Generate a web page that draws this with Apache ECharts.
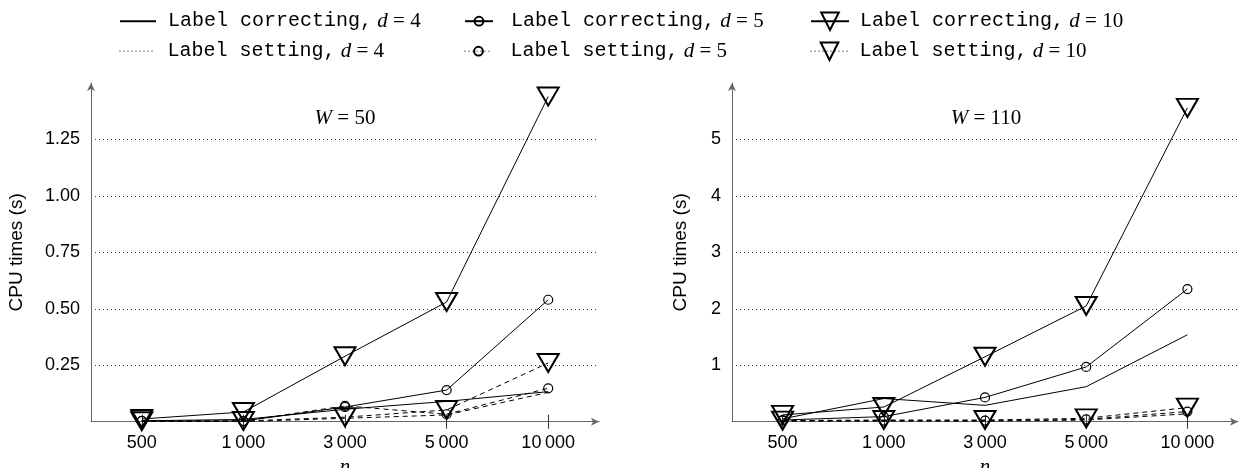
<!DOCTYPE html>
<html>
<head>
<meta charset="utf-8">
<title>CPU times</title>
<script src="https://cdn.jsdelivr.net/npm/echarts@6/dist/echarts.min.js"></script>
<style>html,body{margin:0;padding:0;background:#fff;}</style>
</head>
<body>
<div id="chart" style="width:1240px;height:468px;"></div>
<script>
// n values (x categories)
var ns = ['500', '1\u2009000', '3\u2009000', '5\u2009000', '10\u2009000'];

// W = 50
var corr4_50  = [0.004, 0.010, 0.055, 0.090, 0.133];
var corr5_50  = [0.003, 0.003, 0.065, 0.140, 0.540];
var corr10_50 = [0.012, 0.043, 0.290, 0.530, 1.440];
var set4_50   = [0.001, 0.001, 0.015, 0.030, 0.130];
var set5_50   = [0.004, 0.003, 0.070, 0.033, 0.148];
var set10_50  = [0.002, 0.003, 0.020, 0.052, 0.260];

// W = 110
var corr4_110  = [0.05, 0.41, 0.29, 0.62, 1.54];
var corr5_110  = [0.03, 0.09, 0.43, 0.97, 2.35];
var corr10_110 = [0.12, 0.26, 1.15, 2.05, 5.56];
var set4_110   = [0.01, 0.01, 0.01, 0.03, 0.14];
var set5_110   = [0.02, 0.02, 0.02, 0.04, 0.18];
var set10_110  = [0.02, 0.03, 0.03, 0.06, 0.25];

var TRI = 'path://M0,0L20,0L10,17.3Z';
var SANS = 'Liberation Sans';

function pen(d) {
    if (d === 4) return {symbol: 'none'};
    if (d === 5) return {symbol: 'circle', symbolSize: 9, itemStyle: {color: 'rgba(0,0,0,0)', borderColor: '#000', borderWidth: 1.2}};
    return {symbol: TRI, symbolSize: [21, 18], itemStyle: {color: 'rgba(0,0,0,0)', borderColor: '#000', borderWidth: 2}};
}

function mk(kind, d, data, g) {
    var p = pen(d);
    return {
        type: 'line',
        name: 'Label ' + kind + ', d = ' + d,
        xAxisIndex: g, yAxisIndex: g,
        data: data,
        symbol: p.symbol,
        symbolSize: p.symbolSize,
        showSymbol: p.symbol !== 'none',
        itemStyle: p.itemStyle,
        lineStyle: {color: '#000', width: 1, type: kind === 'setting' ? [5, 4] : 'solid'},
        animation: false,
        z: d === 10 ? 4 : 3
    };
}

var series = [
    mk('correcting', 4, corr4_50, 0), mk('setting', 4, set4_50, 0),
    mk('correcting', 5, corr5_50, 0), mk('setting', 5, set5_50, 0),
    mk('correcting', 10, corr10_50, 0), mk('setting', 10, set10_50, 0),
    mk('correcting', 4, corr4_110, 1), mk('setting', 4, set4_110, 1),
    mk('correcting', 5, corr5_110, 1), mk('setting', 5, set5_110, 1),
    mk('correcting', 10, corr10_110, 1), mk('setting', 10, set10_110, 1)
];

var rich = {
    tt: {fontFamily: 'Liberation Mono', fontSize: 20, lineHeight: 22, color: '#000'},
    m: {fontFamily: 'Liberation Serif', fontStyle: 'italic', fontSize: 21, lineHeight: 22, color: '#000'},
    r: {fontFamily: 'Liberation Serif', fontSize: 21, lineHeight: 22, color: '#000'},
    p7: {width: 7, lineHeight: 22},
    p13: {width: 13, lineHeight: 22},
    p6: {width: 6, lineHeight: 22}
};

function legendItem(name, left, top, w, h, padKey, dotted, hideSym) {
    var item = {name: name};
    if (dotted) item.lineStyle = {type: [1, 3], width: 1, color: '#000'};
    if (hideSym) item.itemStyle = {color: 'rgba(0,0,0,0)', borderColor: 'rgba(0,0,0,0)', borderWidth: 0};
    return {
        left: left, top: top, padding: 0,
        itemWidth: w, itemHeight: h,
        selectedMode: false,
        data: [item],
        formatter: function (nm) {
            var m = nm.match(/^(.*), d = (\d+)$/);
            return '{' + padKey + '| }{tt|' + m[1] + ',}{r| }{m|d}{r| = ' + m[2] + '}';
        },
        textStyle: {rich: rich}
    };
}

function yAxis(g, max, interval, fmt, gap) {
    return {
        type: 'value', gridIndex: g, min: 0, max: max, interval: interval,
        name: 'CPU times (s)', nameLocation: 'middle', nameGap: gap,
        nameTextStyle: {fontFamily: SANS, fontSize: 19, color: '#000'},
        axisLine: {show: true, lineStyle: {color: '#666', width: 1}, symbol: ['none', 'arrow'], symbolSize: [6, 8]},
        axisTick: {show: false},
        axisLabel: {fontFamily: SANS, fontSize: 18, color: '#000', margin: 11, showMinLabel: false, showMaxLabel: false, formatter: fmt},
        splitLine: {show: true, showMinLine: false, showMaxLine: false, lineStyle: {color: '#333', width: 1, type: [1, 3]}}
    };
}

function xAxis(g, main) {
    return {
        type: 'category', gridIndex: g, data: ns, boundaryGap: true, position: 'bottom',
        name: main ? 'n' : '', nameLocation: 'middle', nameGap: 26,
        nameTextStyle: {fontFamily: 'Liberation Serif', fontStyle: 'italic', fontSize: 21, color: '#000'},
        axisLine: {show: main, lineStyle: {color: '#666', width: 1}, symbol: ['none', 'arrow'], symbolSize: [6, 8]},
        axisTick: {show: true, alignWithLabel: true, inside: !main, length: 7, lineStyle: {color: '#333'}},
        axisLabel: {show: main, fontFamily: SANS, fontSize: 18, color: '#000', margin: 12},
        splitLine: {show: false}
    };
}

var titleRich = {
    i: {fontFamily: 'Liberation Serif', fontStyle: 'italic', fontWeight: 'normal', fontSize: 21, lineHeight: 24, color: '#000'},
    r: {fontFamily: 'Liberation Serif', fontWeight: 'normal', fontSize: 21, lineHeight: 24, color: '#000'}
};

var chart = echarts.init(document.getElementById('chart'), null, {renderer: 'canvas'});
chart.setOption({
    backgroundColor: '#fff',
    animation: false,
    title: [
        {text: '{i|W}{r| = 50}', left: 345, top: 106, padding: 0, textAlign: 'center', textStyle: {fontWeight: 'normal', rich: titleRich}},
        {text: '{i|W}{r| = 110}', left: 986, top: 106, padding: 0, textAlign: 'center', textStyle: {fontWeight: 'normal', rich: titleRich}}
    ],
    legend: [
        legendItem('Label correcting, d = 4', 119, 10.7, 36, 14, 'p7', false, true),
        legendItem('Label setting, d = 4', 119, 40.7, 36, 14, 'p7', true, true),
        legendItem('Label correcting, d = 5', 464, 10.7, 28, 11, 'p13', false, false),
        legendItem('Label setting, d = 5', 464, 40.7, 28, 11, 'p13', true, false),
        legendItem('Label correcting, d = 10', 810, 10.7, 38, 22, 'p6', false, false),
        legendItem('Label setting, d = 10', 810, 40.7, 38, 22, 'p6', true, false)
    ],
    grid: [
        {left: 91, top: 83, width: 508, height: 338.7, outerBoundsMode: 'none'},
        {left: 732, top: 83, width: 506, height: 338.7, outerBoundsMode: 'none'}
    ],
    xAxis: [xAxis(0, true), xAxis(1, true), xAxis(0, false), xAxis(1, false)],
    yAxis: [
        yAxis(0, 1.5, 0.25, function (v) { return v.toFixed(2); }, 65),
        yAxis(1, 6, 1, function (v) { return String(v); }, 42)
    ],
    series: series
});
</script>
</body>
</html>
